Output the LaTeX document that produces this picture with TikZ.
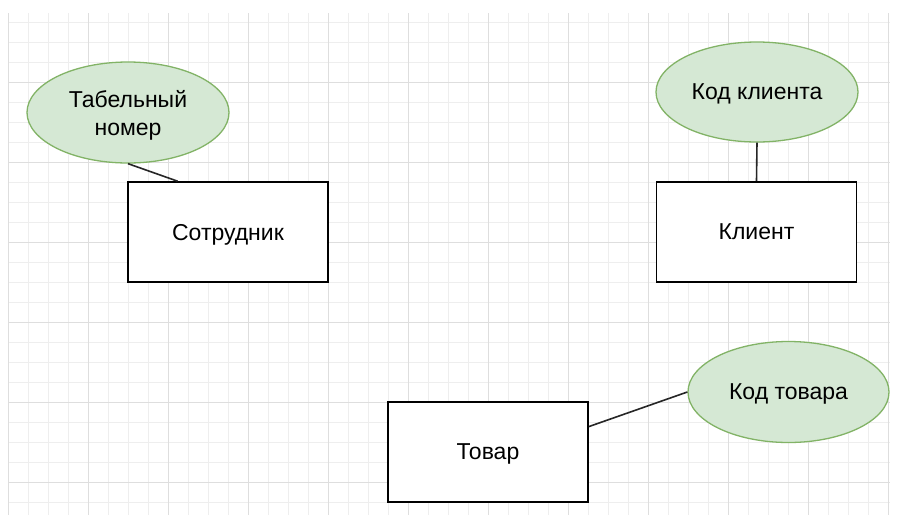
\documentclass[tikz,border=0pt]{standalone}
\usepackage{fontspec}
\setmainfont{Liberation Sans}
\usetikzlibrary{shapes.geometric,calc}
\definecolor{gminor}{HTML}{EEEEEE}
\definecolor{gmajor}{HTML}{DEDEDE}
\definecolor{attrfill}{HTML}{D5E8D4}
\definecolor{attrdraw}{HTML}{82B366}
\tikzset{
  entity/.style={draw=black, line width=1.6pt, fill=white, minimum width=200pt, minimum height=100pt, inner sep=0pt, text depth=0pt, font=\fontsize{23}{28}\selectfont},
  attr/.style={ellipse, draw=attrdraw, line width=1.3pt, fill=attrfill, inner sep=0pt, text depth=0pt, font=\fontsize{23}{28}\selectfont, align=center},
  link/.style={draw=black!85, line width=1.6pt}
}
\begin{document}
\begin{tikzpicture}[x=1pt,y=-1pt]
\useasboundingbox (0,0) rectangle (898,515);
\fill[white] (0,0) rectangle (898,515);
% grid
\begin{scope}
\clip (8,13) rectangle (890,515);
\foreach \x in {8,28,...,888} \draw[gminor, line width=1pt] (\x,13) -- (\x,515);
\foreach \y in {22,42,...,515} \draw[gminor, line width=1pt] (8,\y) -- (890,\y);
\foreach \x in {8,88,...,888} \draw[gmajor, line width=1pt] (\x,13) -- (\x,515);
\foreach \y in {2,82,...,515} \draw[gmajor, line width=1pt] (8,\y) -- (890,\y);
\end{scope}
% entities
\node[entity] (sotr) at (228,232) {Сотрудник};
\node[entity] (klient) at (756.5,232) {Клиент};
\node[entity] (tovar) at (488,452) {Товар};
% attributes
\node[attr, minimum width=202pt, minimum height=101pt] (tabn) at (128,112.5) {Табельный\\номер};
\node[attr, minimum width=202pt, minimum height=100pt] (kodk) at (757,92) {Код клиента};
\node[attr, minimum width=201pt, minimum height=101pt] (kodt) at (788.5,392) {Код товара};
% links
\coordinate (sotrtop) at ($(sotr.north west)!0.25!(sotr.north east)$);
\coordinate (tovright) at ($(tovar.north east)!0.25!(tovar.south east)$);
\draw[link] (tabn.south) -- (sotrtop);
\draw[link] (kodk.south) -- (klient.north);
\draw[link] (tovright) -- (kodt.west);
\end{tikzpicture}
\end{document}
